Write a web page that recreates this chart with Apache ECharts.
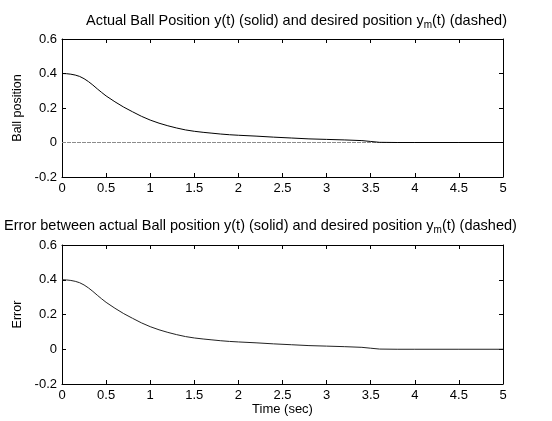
<!DOCTYPE html>
<html>
<head>
<meta charset="utf-8">
<script src="https://cdn.jsdelivr.net/npm/echarts@6/dist/echarts.min.js"></script>
<style>
html,body{margin:0;padding:0;background:#fff;}
#chart{width:552px;height:421px;}
</style>
</head>
<body>
<div id="chart"></div>
<script>
// Time samples (sec)
var time = [0, 0.05, 0.1, 0.15, 0.2, 0.25, 0.3, 0.35, 0.4, 0.45, 0.5, 0.6, 0.7, 0.8, 0.9, 1.0, 1.1, 1.2, 1.3, 1.4, 1.5, 1.6, 1.7, 1.8, 1.9, 2.0, 2.2, 2.4, 2.6, 2.8, 3.0, 3.2, 3.4, 3.5, 3.6, 3.8, 4.0, 4.5, 5.0];
// Actual ball position y(t)
var ballPos = [0.400, 0.399, 0.396, 0.391, 0.383, 0.370, 0.353, 0.333, 0.311, 0.290, 0.270, 0.236, 0.205, 0.178, 0.152, 0.130, 0.112, 0.097, 0.084, 0.073, 0.065, 0.059, 0.054, 0.049, 0.045, 0.042, 0.037, 0.031, 0.026, 0.021, 0.018, 0.015, 0.011, 0.006, 0.001, 0, 0, 0, 0];
// Desired position ym(t)
var desiredPos = [0, 0, 0, 0, 0, 0, 0, 0, 0, 0, 0, 0, 0, 0, 0, 0, 0, 0, 0, 0, 0, 0, 0, 0, 0, 0, 0, 0, 0, 0, 0, 0, 0, 0, 0, 0, 0, 0, 0];
// Error y(t) - ym(t)
var errorVals = [0.400, 0.399, 0.396, 0.391, 0.383, 0.370, 0.353, 0.333, 0.311, 0.290, 0.270, 0.236, 0.205, 0.178, 0.152, 0.130, 0.112, 0.097, 0.084, 0.073, 0.065, 0.059, 0.054, 0.049, 0.045, 0.042, 0.037, 0.031, 0.026, 0.021, 0.018, 0.015, 0.011, 0.006, 0.001, 0, 0, 0, 0];
// Axis ranges / ticks
var xMin = 0, xMax = 5, xStep = 0.5;
var yMin = -0.2, yMax = 0.6, yStep = 0.2;
var title1 = 'Actual Ball Position y(t) (solid) and desired position y{sub|m}(t) (dashed)';
var title2 = 'Error between actual Ball position y(t) (solid) and desired position y{sub|m}(t) (dashed)';

function pairs(xs, ys){ return xs.map(function(x,i){ return [x, ys[i]]; }); }

var FONT = 'Liberation Sans, Arial, sans-serif';
var lineStyle = {color:'#000', width:1};
function xAx(gi, pos, showLabel, name){
  return {type:'value', gridIndex:gi, position:pos, min:xMin, max:xMax, interval:xStep,
    axisLine:{show:true, onZero:false, lineStyle:lineStyle},
    axisTick:{show:true, inside:true, length:4, lineStyle:lineStyle},
    axisLabel:{show:showLabel, color:'#000', fontSize:13, fontFamily:FONT, margin:5},
    splitLine:{show:false},
    name: name || '', nameLocation:'middle', nameGap:16,
    nameTextStyle:{color:'#000', fontSize:13, fontFamily:FONT, verticalAlign:'top'}};
}
function yAx(gi, pos, showLabel, name){
  return {type:'value', gridIndex:gi, position:pos, min:yMin, max:yMax, interval:yStep,
    axisLine:{show:true, onZero:false, lineStyle:lineStyle},
    axisTick:{show:true, inside:true, length:4, lineStyle:lineStyle},
    axisLabel:{show:showLabel, color:'#000', fontSize:13, fontFamily:FONT, margin:5},
    splitLine:{show:false},
    name: name || '', nameLocation:'middle', nameGap:31,
    nameTextStyle:{color:'#000', fontSize:12.5, fontFamily:FONT}};
}
var rich = {sub:{fontSize:10, fontFamily:FONT, color:'#000', padding:[8,0,0,0]}};
var chart = echarts.init(document.getElementById('chart'), null, {renderer:'canvas'});
chart.setOption({
  backgroundColor:'#fff',
  animation:false,
  title:[
    {text:title1, left:81, top:7, textStyle:{fontSize:14.5, fontWeight:'normal', color:'#000', fontFamily:FONT, rich:rich}},
    {text:title2, left:-1, top:212, textStyle:{fontSize:14.5, fontWeight:'normal', color:'#000', fontFamily:FONT, rich:rich}}
  ],
  grid:[
    {left:62, top:39, width:441, height:138},
    {left:62, top:245, width:441, height:139}
  ],
  xAxis:[xAx(0,'bottom',true), xAx(0,'top',false), xAx(1,'bottom',true,'Time (sec)'), xAx(1,'top',false)],
  yAxis:[yAx(0,'left',true,'Ball position'), yAx(0,'right',false), yAx(1,'left',true,'Error'), yAx(1,'right',false)],
  series:[
    {type:'line', xAxisIndex:0, yAxisIndex:0, data:pairs(time, desiredPos), showSymbol:false, lineStyle:{color:'#8c8c8c', width:1.2, type:[4,1]}},
    {type:'line', xAxisIndex:0, yAxisIndex:0, data:pairs(time, ballPos), showSymbol:false, lineStyle:{color:'#000', width:1}},
    {type:'line', xAxisIndex:2, yAxisIndex:2, data:pairs(time, errorVals), showSymbol:false, lineStyle:{color:'#222', width:1}}
  ]
});
</script>
</body>
</html>
